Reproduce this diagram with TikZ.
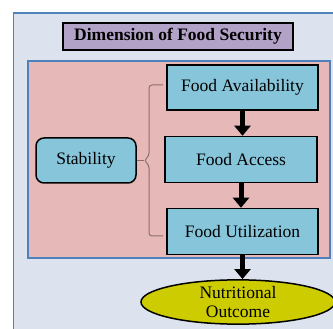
\documentclass[tikz,border=0pt]{standalone}
\usepackage{fontspec}
\setmainfont{Liberation Serif}
\usetikzlibrary{arrows.meta,shapes.geometric}

\definecolor{outerfill}{RGB}{220,227,239}
\definecolor{frameblue}{RGB}{79,129,189}
\definecolor{pinkfill}{RGB}{230,185,184}
\definecolor{titlefill}{RGB}{179,162,199}
\definecolor{boxfill}{RGB}{134,197,218}
\definecolor{outfill}{RGB}{204,204,0}
\definecolor{bracecol}{RGB}{140,110,110}

\begin{document}
\begin{tikzpicture}[x=1pt, y=-1pt]
  \tikzstyle{dim}=[draw, line width=1.5pt, fill=boxfill, inner sep=0pt,
                   font=\fontsize{17.5}{19}\selectfont]
  \tikzstyle{flow}=[line width=5pt, -{Triangle[width=16pt, length=10pt]}]
  \tikzstyle{brace}=[draw=bracecol, line width=1pt, rounded corners=3pt]

  \useasboundingbox (0, 0) rectangle (333, 329);

  % background frames
  \begin{scope}
    \clip (0, 0) rectangle (333, 329);
    \draw[frameblue, line width=1.5pt, fill=outerfill] (13.5, 13) rectangle (360, 360);
  \end{scope}
  \draw[frameblue, line width=1.2pt, fill=pinkfill] (28, 61) rectangle (330, 258);

  \node[draw, line width=1.5pt, fill=titlefill, minimum width=230pt, minimum height=27pt,
        inner sep=0pt, font=\fontsize{17.5}{19}\selectfont\bfseries] (title) at (178, 36.5)
        {Dimension of Food Security};

  \node[dim, minimum width=151pt, minimum height=45pt] (avail)  at (242.5, 87.5)  {Food Availability};
  \node[dim, minimum width=152pt, minimum height=46pt] (access) at (241,   159.5) {Food Access};
  \node[dim, minimum width=151pt, minimum height=46pt] (util)   at (242.5, 231.5) {Food Utilization};
  \node[dim, rounded corners=8pt, minimum width=100pt, minimum height=45pt] (stab) at (86, 160.5) {Stability};

  \node[ellipse, draw, line width=1.5pt, fill=outfill, minimum width=194pt, minimum height=40pt,
        inner sep=0pt, align=center, font=\fontsize{17.5}{19}\selectfont] (outcome) at (238, 302)
        {Nutritional\\Outcome};

  \draw[flow] (avail.south)  -- (avail.south |- access.north);
  \draw[flow] (access.south) -- (access.south |- util.north);
  \draw[flow] (util.south)   -- (util.south |- outcome.north);

  % bracket
  \coordinate (btop) at (163, 85);
  \coordinate (bbot) at (163, 236);
  \coordinate (btip) at (144, 160.5);
  \path[brace] (btop) -- (149, 85) -- (149, 156) -- (btip) -- (149, 165) -- (149, 236) -- (bbot);
  \path[brace] (btip) -- (stab.east);

\end{tikzpicture}
\end{document}
